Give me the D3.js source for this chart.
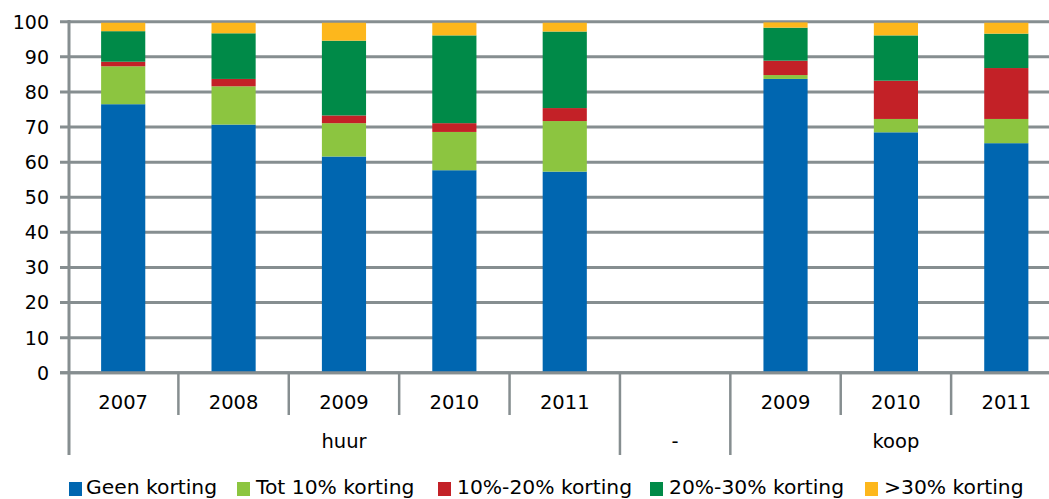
<!DOCTYPE html>
<html><head><meta charset="utf-8">
<script src="https://cdn.jsdelivr.net/npm/d3@7"></script>
<style>body{margin:0;background:#fff;overflow:hidden}svg{display:block}text{font-family:"DejaVu Sans",sans-serif;fill:#000}</style>
</head><body><svg id="c" width="1049" height="499"></svg>
<script>
const years = ["2007","2008","2009","2010","2011","","2009","2010","2011"];
const groups = [{name:"huur", from:0, to:5},{name:"-", from:5, to:6},{name:"koop", from:6, to:9}];
const seriesNames = ["Geen korting","Tot 10% korting","10%-20% korting","20%-30% korting",">30% korting"];
const geen   = [76.5, 70.7, 61.6, 57.7, 57.3, 0, 83.7, 68.5, 65.4];
const tot10  = [10.8, 10.9,  9.5, 10.9, 14.4, 0,  1.1,  3.8,  6.9];
const r10_20 = [ 1.3,  2.1,  2.2,  2.5,  3.7, 0,  4.1, 10.9, 14.5];
const r20_30 = [ 8.7, 13.0, 21.3, 25.0, 21.8, 0,  9.4, 12.9,  9.8];
const gt30   = [ 2.4,  3.0,  5.1,  3.6,  2.5, 0,  1.5,  3.6,  3.1];
const yTicks = [0,10,20,30,40,50,60,70,80,90,100];
const colors = ["#0066b0","#8cc540","#c32127","#008a48","#fdb71c"];

const rows = years.map((y,i)=>({i:i, year:y, s0:geen[i], s1:tot10[i], s2:r10_20[i], s3:r20_30[i], s4:gt30[i]}));
const keys = ["s0","s1","s2","s3","s4"];
const stacked = d3.stack().keys(keys)(rows);

const svg = d3.select("#c");
const x = d3.scaleBand().domain(d3.range(years.length)).range([68, 1061.5]).paddingInner(0).paddingOuter(0);
const y = d3.scaleLinear().domain([0,100]).range([372.8, 21.7]);
const grid = "#868e90";
const barW = x.bandwidth()*0.4;

// gridlines
svg.append("g").selectAll("line").data(yTicks).join("line")
  .attr("x1", 60).attr("x2", 1049).attr("y1", d=>y(d)).attr("y2", d=>y(d))
  .attr("stroke", grid).attr("stroke-width", 3);

// y labels
svg.append("g").selectAll("text").data(yTicks).join("text")
  .attr("x", 49).attr("y", d=>y(d)).attr("dy","0.36em").attr("text-anchor","end")
  .attr("font-size", 19).text(d=>d);

// bars
svg.append("g").selectAll("g").data(stacked).join("g").attr("fill",(d,i)=>colors[i])
  .selectAll("rect").data(d=>d).join("rect")
  .attr("x", d=>x(d.data.i)+x.bandwidth()/2-barW/2).attr("width", barW)
  .attr("y", d=>y(d[1])).attr("height", d=>Math.max(0, y(d[0])-y(d[1])));

// y axis line
svg.append("line").attr("x1",69).attr("x2",69).attr("y1",20).attr("y2",455).attr("stroke",grid).attr("stroke-width",3);
// x axis line
svg.append("line").attr("x1",60).attr("x2",1049).attr("y1",y(0)).attr("y2",y(0)).attr("stroke",grid).attr("stroke-width",3);

// category separators
const groupBounds = new Set(groups.map(g=>g.from).concat(groups.map(g=>g.to)));
svg.append("g").selectAll("line").data(d3.range(1, years.length)).join("line")
  .attr("x1", d=>x(d)).attr("x2", d=>x(d)).attr("y1", y(0))
  .attr("y2", d=> groupBounds.has(d) ? 455 : 415)
  .attr("stroke", grid).attr("stroke-width", 2.5);

// year labels
svg.append("g").selectAll("text").data(rows).join("text")
  .attr("x", d=>x(d.i)+x.bandwidth()/2).attr("y", 409).attr("text-anchor","middle")
  .attr("font-size", 19.5).text(d=>d.year);

// group labels
svg.append("g").selectAll("text").data(groups).join("text")
  .attr("x", d=>(x(d.from)+ (d.to<years.length? x(d.to): x.range()[1]))/2).attr("y", 448).attr("text-anchor","middle")
  .attr("font-size", 19.5).text(d=>d.name);

// legend
const legX = [69, 237, 438, 650, 865];
const leg = svg.append("g").selectAll("g").data(seriesNames).join("g")
  .attr("transform",(d,i)=>`translate(${legX[i]},0)`);
leg.append("rect").attr("x",0).attr("y",482).attr("width",13).attr("height",14).attr("fill",(d,i)=>colors[i]);
leg.append("text").attr("x",(d,i)=> i===0?17:19).attr("y",494).attr("font-size",20.3).text(d=>d);
</script></body></html>
